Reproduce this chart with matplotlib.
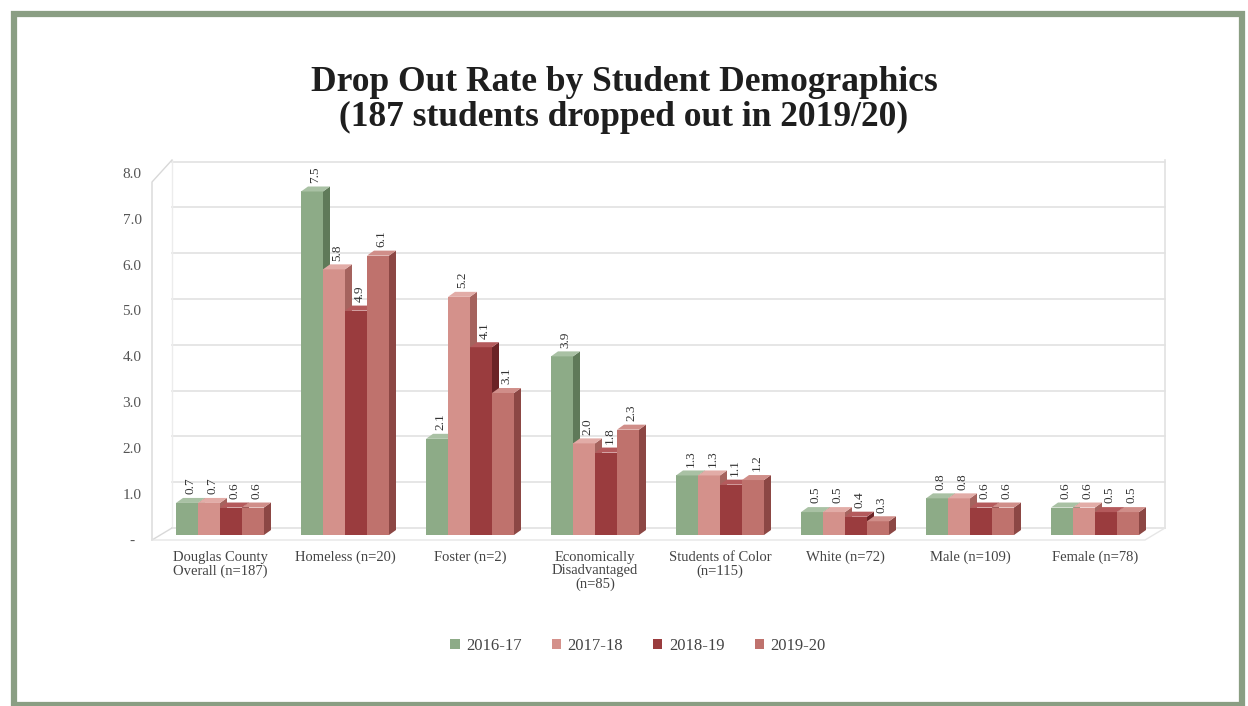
import matplotlib.pyplot as plt
from matplotlib.patches import Polygon, Rectangle, Patch

categories = ["Douglas County\nOverall (n=187)", "Homeless (n=20)", "Foster (n=2)",
              "Economically\nDisadvantaged\n(n=85)", "Students of Color\n(n=115)",
              "White (n=72)", "Male (n=109)", "Female (n=78)"]
years = ["2016-17", "2017-18", "2018-19", "2019-20"]
rate_2016 = [0.7, 7.5, 2.1, 3.9, 1.3, 0.5, 0.8, 0.6]
rate_2017 = [0.7, 5.8, 5.2, 2.0, 1.3, 0.5, 0.8, 0.6]
rate_2018 = [0.6, 4.9, 4.1, 1.8, 1.1, 0.4, 0.6, 0.5]
rate_2019 = [0.6, 6.1, 3.1, 2.3, 1.2, 0.3, 0.6, 0.5]
yticks = [0, 1, 2, 3, 4, 5, 6, 7, 8]

series = [rate_2016, rate_2017, rate_2018, rate_2019]
front = ["#8dab87", "#d4918b", "#9a3c3e", "#bf726d"]
side = ["#5f7a59", "#a5635e", "#6b2326", "#8c4744"]
top = ["#a9c1a4", "#e2aca7", "#b45a5c", "#d08e89"]

W, H = 1248, 706
fig = plt.figure(figsize=(W / 100, H / 100), dpi=100)
ax = fig.add_axes([0, 0, 1, 1])

# pixel <-> data helpers (category spacing 125px, 45.8px per unit)
X0, Y0, SX, SY = 220, 535, 125.0, 45.8
def xd(px):
    return (px - X0) / SX
def yd(py):
    return (Y0 - py) / SY

ax.set_xlim(xd(0), xd(W))
ax.set_ylim(yd(H), yd(0))
ax.axis("off")

serif = ["Liberation Serif", "DejaVu Serif"]
grid_c = "#e2e2e2"

# back wall gridlines
for k in yticks:
    yy = k + 7 / SY
    ax.plot([xd(172), xd(1165)], [yy, yy], color=grid_c, lw=1.2, zorder=1)
ax.plot([xd(1165), xd(1165)], [yd(528), yd(160)], color=grid_c, lw=1.2, zorder=1)
ax.plot([xd(172), xd(172)], [yd(528), yd(160)], color="#ececec", lw=1, zorder=1)
# left wall + floor
ax.plot([xd(152), xd(152), xd(172)], [yd(540), yd(182), yd(160)], color="#d8d8d8", lw=1, zorder=1)
ax.plot([xd(152), xd(172)], [yd(540), yd(528)], color="#d8d8d8", lw=1, zorder=1)
ax.plot([xd(152), xd(1145), xd(1165)], [yd(540), yd(540), yd(528)], color="#e6e6e6", lw=1, zorder=1)

# y tick labels on the front edge of the left wall
for k in yticks:
    lab = "-" if k == 0 else f"{k:.1f}"
    ax.text(xd(132), yd(541 - SY * k), lab, ha="center", va="center",
            fontsize=11, family=serif, color="#555555")

bw = 22 / SX
ddx, ddy = 7 / SX, 5 / SY
for i in range(len(categories)):
    for j, vals in enumerate(series):
        v = vals[i]
        x = i + (j - 1.5) * bw
        z = 3 + i * 0.1 + j * 0.01
        ax.bar(x, v, width=bw, color=front[j], edgecolor="none", zorder=z)
        xr = x + bw / 2
        xl = x - bw / 2
        ax.add_patch(Polygon([(xr, 0), (xr + ddx, ddy), (xr + ddx, v + ddy), (xr, v)],
                             closed=True, color=side[j], lw=0, zorder=z))
        ax.add_patch(Polygon([(xl, v), (xr, v), (xr + ddx, v + ddy), (xl + ddx, v + ddy)],
                             closed=True, color=top[j], lw=0, zorder=z))
        ax.text(x + ddx / 2, v + ddy + 0.08, f"{v:.1f}", rotation=90, ha="center",
                va="bottom", fontsize=9.5, family=serif, color="#333333", zorder=10)
    ax.text(i, yd(551), categories[i], ha="center", va="top", fontsize=10.5,
            family=serif, color="#444444", linespacing=1.02)

fig.text(0.5, 1 - 100 / H, "Drop Out Rate by Student Demographics\n(187 students dropped out in 2019/20)",
         ha="center", va="center", fontsize=25.5, fontweight="bold", family=serif,
         color="#1e1e1e", linespacing=1.1)

handles = [Patch(facecolor=front[j], edgecolor="none") for j in range(4)]
fig.legend(handles, years, loc="center", bbox_to_anchor=(638 / W, 1 - 646 / H), ncol=4,
           frameon=False, handlelength=0.55, handleheight=0.55, handletextpad=0.4,
           columnspacing=1.8, prop={"family": serif, "size": 12}, labelcolor="#444444")

# green outer frame
fig.patches.append(Rectangle((13.5 / W, 1.5 / H), 1228 / W, 691 / H, transform=fig.transFigure,
                             fill=False, edgecolor="#8a9e83", lw=4.5, zorder=20))

fig.savefig("out.png", dpi=100)
